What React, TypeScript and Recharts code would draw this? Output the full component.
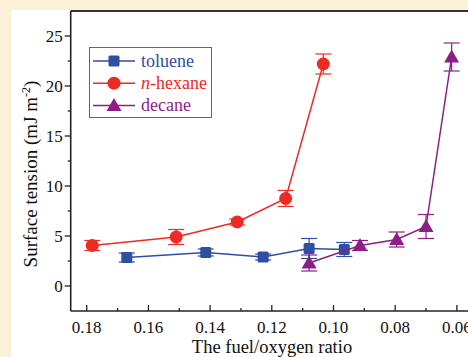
import React from 'react';
import { ScatterChart, Scatter, XAxis, YAxis, ErrorBar, ReferenceLine, Legend } from 'recharts';

// ---- data ----
const tolueneX = [0.167, 0.1414, 0.1228, 0.1079, 0.0965];
const tolueneY = [2.85, 3.35, 2.9, 3.75, 3.65];
const tolueneErr = [0.45, 0.35, 0.3, 1.0, 0.7];

const hexaneX = [0.1782, 0.151, 0.1312, 0.1155, 0.1033];
const hexaneY = [4.05, 4.9, 6.4, 8.75, 22.2];
const hexaneErr = [0.5, 0.75, 0.3, 0.8, 1.0];

const decaneX = [0.1079, 0.0914, 0.0795, 0.07, 0.0617];
const decaneY = [2.3, 4.05, 4.65, 5.95, 22.9];
const decaneErr = [0.8, 0.5, 0.75, 1.2, 1.4];

const xTicks = [0.18, 0.17, 0.16, 0.15, 0.14, 0.13, 0.12, 0.11, 0.1, 0.09, 0.08, 0.07, 0.06];
const yTicks = [0, 2.5, 5, 7.5, 10, 12.5, 15, 17.5, 20, 22.5, 25];
const xMajorLabels = ['0.18', '0.16', '0.14', '0.12', '0.10', '0.08', '0.06'];
const yMajorLabels = ['0', '5', '10', '15', '20', '25'];

const xTitle = 'The fuel/oxygen ratio';
const yTitle = 'Surface tension (mJ m';

const build = (xs: number[], ys: number[], es: number[]) =>
  xs.map((x, i) => ({ x, y: ys[i], err: es[i] }));

const BLUE = '#2F4FA2';
const RED = '#EE2A24';
const PURPLE = '#8C1F87';
const FONT = '"Liberation Serif", "Times New Roman", serif';

type Shape = 'square' | 'circle' | 'triangle';

const marker = (shape: Shape, cx: number, cy: number, color: string) => {
  if (shape === 'square') return <rect x={cx - 5.5} y={cy - 5.5} width={11} height={11} rx={1.5} fill={color} />;
  if (shape === 'circle') return <circle cx={cx} cy={cy} r={6.5} fill={color} />;
  return <polygon points={`${cx},${cy - 7.5} ${cx - 7.5},${cy + 5.5} ${cx + 7.5},${cy + 5.5}`} fill={color} />;
};

const series = [
  { key: 'toluene', data: build(tolueneX, tolueneY, tolueneErr), color: BLUE, shape: 'square' as Shape },
  { key: 'n-hexane', data: build(hexaneX, hexaneY, hexaneErr), color: RED, shape: 'circle' as Shape },
  { key: 'decane', data: build(decaneX, decaneY, decaneErr), color: PURPLE, shape: 'triangle' as Shape },
];

const XTick = (props: any) => {
  const { x, y, payload } = props;
  const v = payload.value as number;
  const label = v.toFixed(2);
  const major = xMajorLabels.includes(label);
  return (
    <g>
      <line x1={x} x2={x} y1={y} y2={y - (major ? 6 : 3)} stroke="#222" strokeWidth={1.3} />
      {major && (
        <text x={x} y={y + 21.5} textAnchor="middle" fontFamily={FONT} fontSize={17} fill="#111">
          {label}
        </text>
      )}
    </g>
  );
};

const YTick = (props: any) => {
  const { x, y, payload } = props;
  const v = payload.value as number;
  const label = String(v);
  const major = yMajorLabels.includes(label);
  return (
    <g>
      <line x1={x} x2={x - (major ? 6 : 3)} y1={y} y2={y} stroke="#222" strokeWidth={1.3} />
      {major && (
        <text x={x - 8} y={y + 6} textAnchor="end" fontFamily={FONT} fontSize={17} fill="#111">
          {label}
        </text>
      )}
    </g>
  );
};

const LegendBox = () => (
  <svg width={124} height={72} style={{ display: 'block' }}>
    <rect x={0.5} y={0.5} width={122} height={70} fill="#fff" stroke="#666" strokeWidth={1} />
    {series.map((s, i) => {
      const cy = 14 + i * 22.2;
      return (
        <g key={s.key}>
          <line x1={4} x2={46} y1={cy} y2={cy} stroke={s.color} strokeWidth={1.5} />
          {marker(s.shape, 25, cy, s.color)}
          <text x={52} y={cy + 6} fontFamily={FONT} fontSize={18} fill={s.color}>
            {s.key === 'n-hexane' ? (
              <>
                <tspan fontStyle="italic">n</tspan>-hexane
              </>
            ) : (
              s.key
            )}
          </text>
        </g>
      );
    })}
  </svg>
);

export default function App() {
  return (
    <div
      style={{
        position: 'absolute',
        left: 0,
        top: 0,
        width: 468,
        height: 357,
        overflow: 'hidden',
        background: '#FCF0D6',
      }}
    >
      <div style={{ position: 'absolute', left: 11, top: 10, right: 0, bottom: 0, background: '#fff' }} />
      <div style={{ position: 'absolute', left: 0, top: 0 }}>
        <ScatterChart width={480} height={357} margin={{ top: 11, right: 7.7, left: 10.7, bottom: 0 }}>
          <XAxis
            type="number"
            dataKey="x"
            domain={[0.055, 0.18519]}
            reversed
            allowDataOverflow
            ticks={xTicks}
            interval={0}
            tickSize={0}
            tickMargin={0}
            tickLine={false}
            tick={<XTick />}
            height={46}
            axisLine={{ stroke: '#222', strokeWidth: 1.6 }}
            label={{
              content: () => (
                <text x={272} y={353} textAnchor="middle" fontFamily={FONT} fontSize={18.5} fill="#111">
                  {xTitle}
                </text>
              ),
            }}
          />
          <YAxis
            type="number"
            dataKey="y"
            domain={[-2.5, 27.5]}
            allowDataOverflow
            ticks={yTicks}
            interval={0}
            tickSize={0}
            tickMargin={0}
            tickLine={false}
            tick={<YTick />}
            width={60}
            axisLine={{ stroke: '#222', strokeWidth: 1.6 }}
            label={{
              content: () => (
                <text
                  x={37}
                  y={174}
                  transform="rotate(-90 37 174)"
                  textAnchor="middle"
                  fontFamily={FONT}
                  fontSize={19}
                  fill="#111"
                >
                  {yTitle}
                  <tspan dy={-7} fontSize={12}>-2</tspan>
                  <tspan dy={7}>)</tspan>
                </text>
              ),
            }}
          />
          <ReferenceLine y={27.5} stroke="#333" strokeWidth={2} ifOverflow="extendDomain" />
          {series.map((s) => (
            <Scatter
              key={s.key}
              name={s.key}
              data={s.data}
              isAnimationActive={false}
              line={{ stroke: s.color, strokeWidth: 1.5 }}
              lineType="joint"
              shape={(p: any) => marker(s.shape, p.cx, p.cy, s.color)}
            >
              <ErrorBar dataKey="err" direction="y" width={8} stroke={s.color} strokeWidth={1.2} />
            </Scatter>
          ))}
          <Legend
            layout="vertical"
            align="center"
            verticalAlign="middle"
            wrapperStyle={{ left: 89, top: 47, width: 124, height: 72 }}
            content={() => <LegendBox />}
          />
        </ScatterChart>
      </div>
    </div>
  );
}
